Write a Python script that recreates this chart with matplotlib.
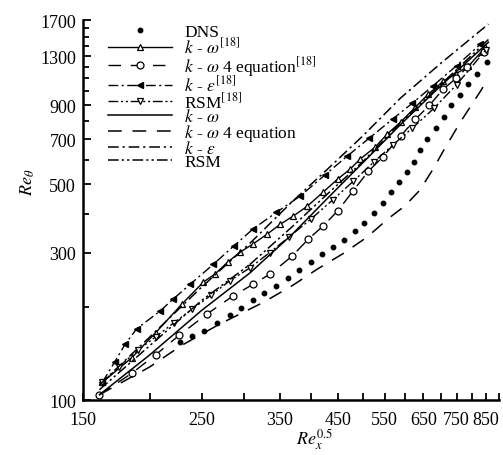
import matplotlib
matplotlib.use('Agg')
import matplotlib.pyplot as plt
from matplotlib.ticker import FixedLocator, NullFormatter, FixedFormatter

plt.rcParams['font.family'] = ['Liberation Serif', 'DejaVu Serif']
plt.rcParams['mathtext.fontset'] = 'stix'

# DNS
dns_x = [228, 240, 253, 267, 282, 296, 312, 327, 345, 363, 381, 401, 420, 441, 462,
         485, 504, 526, 547, 566, 586, 606, 625, 641, 661, 687, 711, 733, 762, 789, 817, 853]
dns_y = [154, 161, 167, 178, 188, 199, 211, 222, 234, 248, 263, 280, 297, 313, 329,
         352, 374, 403, 434, 471, 508, 547, 589, 644, 699, 759, 824, 901, 971, 1054, 1135, 1241]

# k-omega [18] (open triangles, solid)
kw18_x = [163, 185, 205, 230, 252, 265, 280, 295, 312, 332, 351, 371, 394, 422, 449, 474,
          495, 528, 556, 589, 628, 664, 708, 749, 789, 849]
kw18_y = [114, 137, 165, 205, 241, 256, 280, 301, 320, 345, 371, 394, 424, 471, 519, 559,
          603, 659, 726, 794, 888, 979, 1077, 1140, 1205, 1388]

# k-omega 4 equation [18] (open circles, dashed)
kw4e18_x = [161, 185, 205, 227, 256, 286, 312, 336, 369, 396, 422, 449, 480, 513, 545,
            589, 628, 667, 708, 748, 785, 842]
kw4e18_y = [104, 122, 140, 162, 190, 217, 237, 256, 292, 332, 366, 409, 475, 551, 611,
            715, 812, 900, 1016, 1100, 1196, 1337]

# k-epsilon [18] (filled triangles, dash-dot)
ke18_x = [163, 172, 180, 189, 209, 221, 238, 263, 287, 312, 345, 382, 425, 468, 515,
          569, 620, 676, 750, 831]
ke18_y = [114, 133, 152, 170, 194, 212, 237, 275, 315, 358, 405, 457, 535, 616, 705,
          812, 915, 1038, 1210, 1419]

# RSM [18] (open down triangles, dash-dot-dot)
rsm18_x = [163, 175, 190, 205, 222, 240, 260, 282, 308, 335, 365, 400, 440, 480, 525,
           570, 620, 680, 750, 850]
rsm18_y = [114, 128, 145, 160, 178, 197, 218, 243, 268, 300, 338, 385, 445, 510, 590,
           670, 760, 880, 1050, 1360]

# present computations
kw_x = [161, 200, 250, 308, 370, 430, 500, 589, 700, 860]
kw_y = [104, 140, 195, 258, 345, 450, 585, 780, 1040, 1440]

kw4e_x = [161, 200, 229, 270, 326, 370, 411, 460, 510, 560, 600, 640, 680, 708, 762, 831, 850]
kw4e_y = [104, 128, 150, 176, 207, 235, 265, 298, 337, 388, 425, 478, 565, 640, 794, 1000, 1065]

ke_x = [161, 200, 250, 308, 370, 430, 500, 589, 700, 860]
ke_y = [112, 160, 232, 322, 440, 559, 715, 950, 1230, 1650]

rsm_x = [161, 200, 250, 308, 370, 430, 500, 589, 700, 860]
rsm_y = [108, 150, 210, 275, 365, 465, 590, 790, 1050, 1470]

x_ticks = [150, 250, 350, 450, 550, 650, 750, 850]
y_ticks = [100, 300, 500, 700, 900, 1300, 1700]

dashdot = (0, (7, 2.5, 1.5, 2.5))
dashdotdot = (0, (7, 2, 1.5, 2, 1.5, 2))
dashed = (0, (9, 7))

fig = plt.figure(figsize=(5.03, 4.56), dpi=100)
ax = fig.add_axes([0.165, 0.1206, 0.827, 0.8333])

ax.plot(dns_x, dns_y, ls='none', marker='o', ms=3.2, color='black', label='DNS')
ax.plot(kw18_x, kw18_y, ls='-', lw=1, marker='^', ms=4.5, mfc='white', mec='black',
        mew=0.9, color='black', label=r'$k$ - $\omega^{[18]}$')
ax.plot(kw4e18_x, kw4e18_y, ls=dashed, lw=1, marker='o', ms=5, mfc='white', mec='black',
        mew=0.9, color='black', label=r'$k$ - $\omega$ 4 equation$^{[18]}$')
ax.plot(ke18_x, ke18_y, ls=dashdot, lw=1, marker='<', ms=5, color='black',
        label=r'$k$ - $\varepsilon^{[18]}$')
ax.plot(rsm18_x, rsm18_y, ls=dashdotdot, lw=1, marker='v', ms=4.5, mfc='white', mec='black',
        mew=0.9, color='black', label=r'RSM$^{[18]}$')
ax.plot(kw_x, kw_y, ls='-', lw=1.1, color='black', label=r'$k$ - $\omega$')
ax.plot(kw4e_x, kw4e_y, ls=dashed, lw=1.1, color='black', label=r'$k$ - $\omega$ 4 equation')
ax.plot(ke_x, ke_y, ls=dashdot, lw=1.1, color='black', label=r'$k$ - $\varepsilon$')
ax.plot(rsm_x, rsm_y, ls=dashdotdot, lw=1.1, color='black', label='RSM')

ax.set_xscale('log')
ax.set_yscale('log')
ax.set_xlim(150, 900)
ax.set_ylim(100, 1700)

ax.xaxis.set_major_locator(FixedLocator(x_ticks))
ax.xaxis.set_major_formatter(FixedFormatter([str(v) for v in x_ticks]))
ax.xaxis.set_minor_locator(FixedLocator(list(range(200, 901, 100))))
ax.xaxis.set_minor_formatter(NullFormatter())
ax.yaxis.set_major_locator(FixedLocator(y_ticks))
ax.yaxis.set_major_formatter(FixedFormatter([str(v) for v in y_ticks]))
ax.yaxis.set_minor_locator(FixedLocator([200, 400, 600, 800, 1000, 1100, 1200, 1400, 1500, 1600]))
ax.yaxis.set_minor_formatter(NullFormatter())

ax.tick_params(which='both', direction='in', width=1.3, labelsize=13)
ax.tick_params(axis='y', which='major', length=6, pad=5)
ax.tick_params(axis='y', which='minor', length=4)
ax.tick_params(axis='x', which='both', length=5, pad=8)

for s in ['top', 'right']:
    ax.spines[s].set_visible(False)
for s in ['left', 'bottom']:
    ax.spines[s].set_linewidth(1.8)

ax.set_xlabel(r'$Re_x^{0.5}$', fontsize=13)
ax.set_ylabel(r'$Re_\theta$', fontsize=13)
ax.xaxis.set_label_coords(0.558, -0.07)
ax.yaxis.set_label_coords(-0.11, 0.575)

ax.legend(loc='upper left', bbox_to_anchor=(0.06, 0.99), frameon=False, fontsize=12.5,
          handlelength=3.7, handletextpad=0.7, labelspacing=-0.18, borderpad=0,
          borderaxespad=0)

fig.savefig('out.png', dpi=100)
